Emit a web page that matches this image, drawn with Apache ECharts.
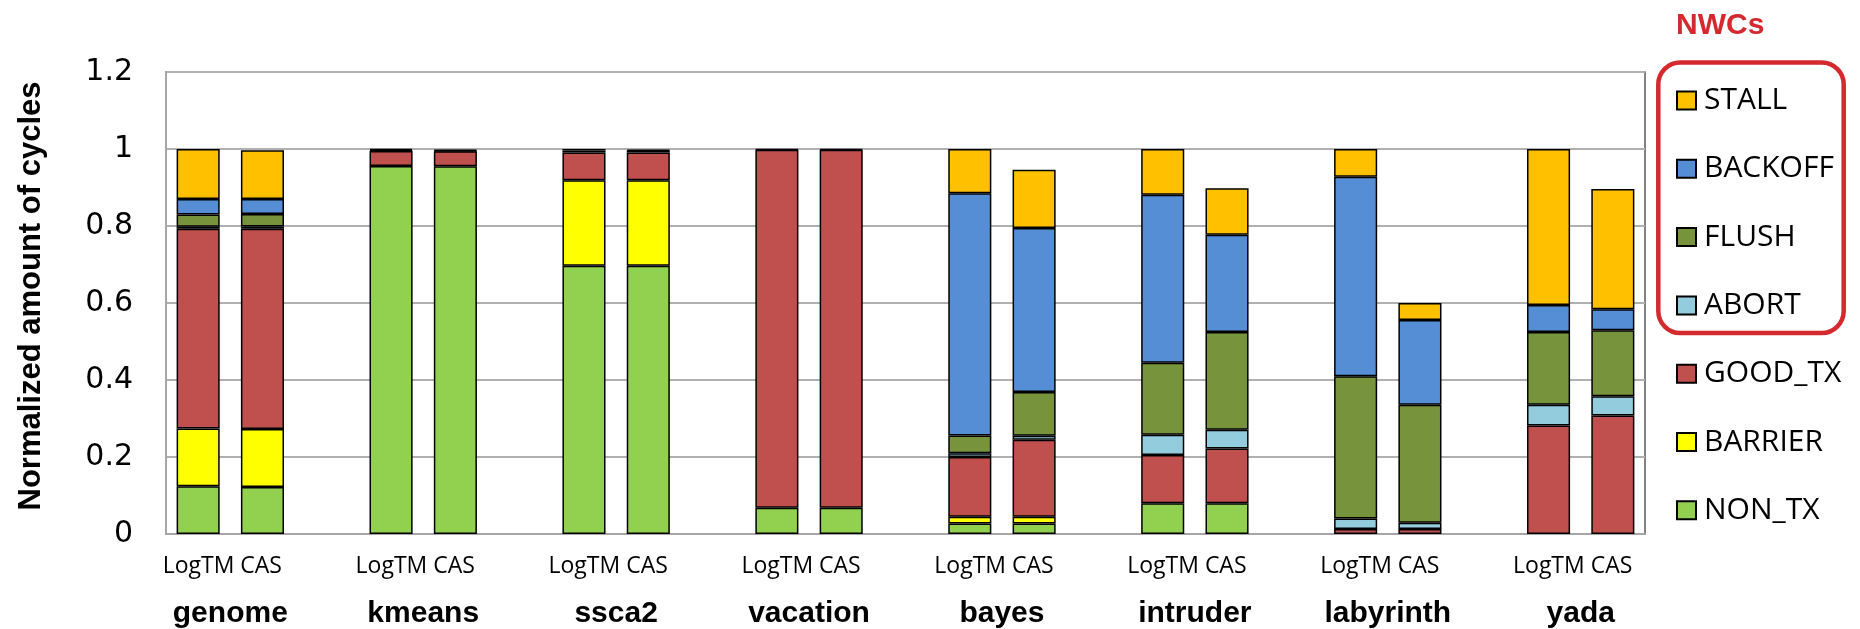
<!DOCTYPE html>
<html>
<head>
<meta charset="utf-8">
<title>Normalized cycles breakdown</title>
<script src="https://cdn.jsdelivr.net/npm/echarts@6/dist/echarts.min.js"></script>
<style>
  html, body { margin: 0; padding: 0; background: #ffffff; }
  #chart { width: 1860px; height: 629px; }
</style>
</head>
<body>
<div id="chart"></div>
<script>
// Benchmarks, each run with two systems
const benchmarks = ['genome', 'kmeans', 'ssca2', 'vacation', 'bayes', 'intruder', 'labyrinth', 'yada'];
const systems = ['LogTM', 'CAS'];
const yTickLabels = ['0', '0.2', '0.4', '0.6', '0.8', '1', '1.2'];

// Cycle fractions, ordered genome LogTM, genome CAS, kmeans LogTM, kmeans CAS, ...
const NON_TX  = [0.124, 0.122, 0.956, 0.955, 0.697, 0.697, 0.068, 0.068, 0.027, 0.027, 0.080, 0.080, 0, 0, 0, 0];
const BARRIER = [0.150, 0.151, 0, 0, 0.222, 0.222, 0, 0, 0.018, 0.018, 0, 0, 0, 0, 0, 0];
const GOOD_TX = [0.519, 0.520, 0.039, 0.039, 0.072, 0.072, 0.930, 0.930, 0.155, 0.200, 0.125, 0.142, 0.013, 0.013, 0.282, 0.308];
const ABORT   = [0.005, 0.006, 0, 0, 0, 0, 0, 0, 0.010, 0.010, 0.053, 0.049, 0.027, 0.016, 0.054, 0.050];
const FLUSH   = [0.032, 0.032, 0, 0, 0, 0, 0, 0, 0.046, 0.114, 0.187, 0.254, 0.370, 0.307, 0.189, 0.171];
const BACKOFF = [0.040, 0.039, 0.002, 0.002, 0.005, 0.005, 0, 0, 0.629, 0.426, 0.436, 0.252, 0.518, 0.220, 0.070, 0.055];
const STALL   = [0.130, 0.127, 0.003, 0.002, 0.004, 0.002, 0.002, 0.002, 0.115, 0.151, 0.119, 0.121, 0.072, 0.044, 0.405, 0.312];

// Stack order, bottom to top
const seriesDefs = [
  { name: 'NON_TX',  values: NON_TX,  color: '#92D050' },
  { name: 'BARRIER', values: BARRIER, color: '#FFFF00' },
  { name: 'GOOD_TX', values: GOOD_TX, color: '#C0504D' },
  { name: 'ABORT',   values: ABORT,   color: '#93CDDD' },
  { name: 'FLUSH',   values: FLUSH,   color: '#77933C' },
  { name: 'BACKOFF', values: BACKOFF, color: '#558ED5' },
  { name: 'STALL',   values: STALL,   color: '#FFC000' }
];

// Category slots: LogTM, CAS, spacer for each benchmark (no spacer after the last)
const slots = [];
benchmarks.forEach((b, i) => {
  systems.forEach(s => slots.push(b + ' ' + s));
  if (i < benchmarks.length - 1) slots.push(b + ' gap');
});

function toSlots(values) {
  const out = [];
  benchmarks.forEach((b, i) => {
    out.push(values[2 * i] === 0 ? '-' : values[2 * i]);
    out.push(values[2 * i + 1] === 0 ? '-' : values[2 * i + 1]);
    if (i < benchmarks.length - 1) out.push('-');
  });
  return out;
}

// Group label positions on the helper value axis (slot units)
const groupCenters = benchmarks.map((b, i) => 3 * i + 1);

const RED = '#D3292F';
const chart = echarts.init(document.getElementById('chart'), null, { renderer: 'canvas' });

chart.setOption({
  animation: false,
  backgroundColor: '#ffffff',
  title: {
    text: 'NWCs',
    left: 1671,
    top: 6,
    textStyle: { fontFamily: 'Liberation Sans', fontWeight: 'bold', fontSize: 30, color: RED }
  },
  legend: {
    orient: 'vertical',
    left: 1671,
    top: 80.5,
    itemWidth: 19,
    itemHeight: 18,
    itemGap: 38.3,
    icon: 'rect',
    data: ['STALL', 'BACKOFF', 'FLUSH', 'ABORT', 'GOOD_TX', 'BARRIER', 'NON_TX'],
    textStyle: { fontFamily: 'Open Sans', fontSize: 30, color: '#000', lineHeight: 30, padding: [0, 0, 0, 3] }
  },
  grid: {
    left: 166, right: 215, top: 72, bottom: 94,
    show: true, borderColor: '#595959', borderWidth: 1.5, backgroundColor: 'transparent'
  },
  xAxis: [
    {
      type: 'category',
      data: slots,
      boundaryGap: true,
      axisLine: { show: true, lineStyle: { color: '#a6a6a6', width: 2 } },
      axisTick: { show: false },
      axisLabel: { show: false },
      splitLine: { show: false }
    },
    {
      type: 'value',
      min: 0,
      max: slots.length,
      position: 'bottom',
      axisLine: { show: false },
      axisTick: { show: false },
      splitLine: { show: false },
      axisLabel: {
        customValues: groupCenters,
        margin: 12,
        formatter: v => '{sys|' + systems.join(' ') + '}\n{bench|' + benchmarks[(v - 1) / 3] + '}',
        rich: {
          sys: { fontFamily: 'Open Sans', fontSize: 23, color: '#000', lineHeight: 40, padding: [0, 16, 0, 0] },
          bench: { fontFamily: 'Liberation Sans', fontWeight: 'bold', fontSize: 30, color: '#000', lineHeight: 56 }
        }
      }
    }
  ],
  yAxis: {
    type: 'value',
    min: 0,
    max: 1.2,
    interval: 0.2,
    name: 'Normalized amount of cycles',
    nameLocation: 'middle',
    nameGap: 119,
    nameTextStyle: {
      fontFamily: 'Liberation Sans', fontWeight: 'bold', fontSize: 31, color: '#000',
      padding: [0, 0, 0, 14]
    },
    axisLine: { show: true, lineStyle: { color: '#a6a6a6', width: 2 } },
    axisTick: { show: false },
    axisLabel: {
      margin: 33,
      fontFamily: 'DejaVu Sans',
      fontSize: 30,
      color: '#000',
      formatter: v => yTickLabels[Math.round(v / 0.2)]
    },
    splitLine: { show: true, lineStyle: { color: '#b0b0b0', width: 2 } }
  },
  series: seriesDefs.map(s => ({
    name: s.name,
    type: 'bar',
    stack: 'cycles',
    xAxisIndex: 0,
    barWidth: '67%',
    data: toSlots(s.values),
    itemStyle: { color: s.color, borderColor: '#000', borderWidth: 1.5 },
    emphasis: { disabled: true }
  })),
  graphic: [
    {
      type: 'rect',
      shape: { x: 1658.3, y: 62.5, width: 185.4, height: 270.5, r: 22 },
      style: { fill: 'none', stroke: RED, lineWidth: 4.5 },
      z: 10
    }
  ]
});
</script>
</body>
</html>
